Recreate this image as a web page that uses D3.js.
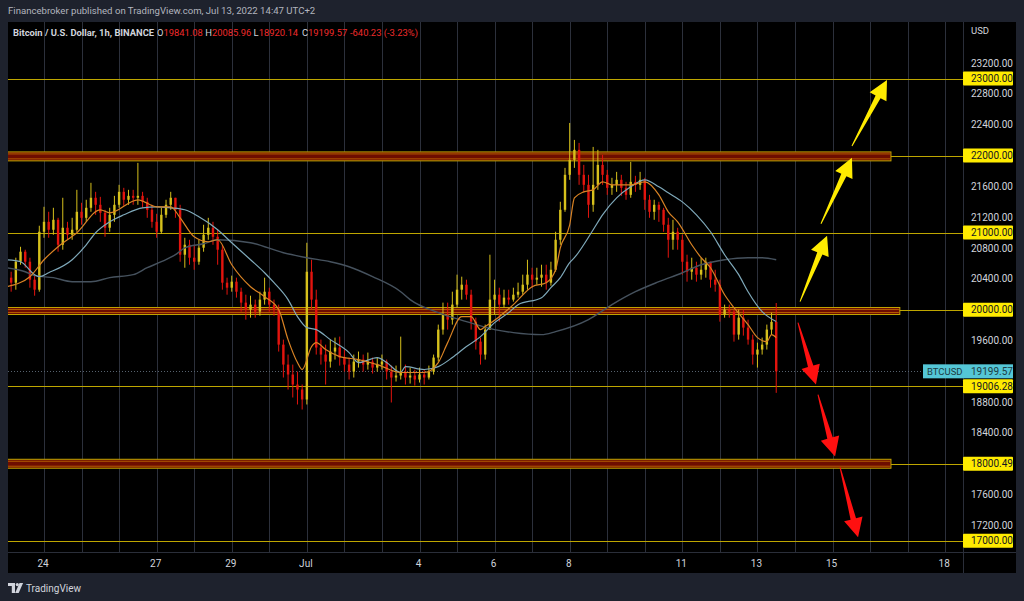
<!DOCTYPE html>
<html><head><meta charset="utf-8">
<script src="https://cdn.jsdelivr.net/npm/d3@7"></script>
<style>
html,body{margin:0;padding:0;background:#1e222d;}
svg{display:block;}
text{font-family:Roboto,"Liberation Sans",sans-serif;}
</style></head><body>
<svg id="c" width="1024" height="601"></svg>
<script>
// ---------- DATA ----------
const barStart = Date.UTC(2022, 5, 23, 0);   // first 3-hour bar
const barHours = 3;
const firstOpen = 20324;
const closes = [
20415,20350,20622,20752,20622,20389,20259,21011,21140,21037,
21166,20842,21063,20972,21037,21270,21192,21322,21452,21361,
21257,21063,21231,21361,21529,21426,21477,21452,21477,21400,
21296,21140,21011,21231,21361,21452,21296,20713,20842,20674,
20622,20804,20972,21063,20946,20778,20350,20285,20363,20233,
20091,20000,20065,19974,20130,20233,20065,20000,19546,19287,
19158,19028,18963,18834,20492,20130,19508,19417,19326,19456,
19508,19378,19287,19196,19326,19352,19287,19326,19248,19287,
19326,19196,19119,19145,19196,19119,19145,19093,19158,19119,
19196,19378,19741,19935,19870,20065,20259,20324,20194,19844,
19585,19417,19741,20130,20194,20065,20156,20130,20194,20233,
20324,20454,20389,20415,20454,20350,20518,20907,21296,21750,
21944,22074,21750,21620,21361,21620,21879,21750,21581,21620,
21685,21581,21490,21659,21620,21685,21426,21270,21361,21296,
21102,20907,21011,20907,20622,20492,20544,20454,20518,20622,
20389,20324,19935,20000,19974,19676,19896,19767,19611,19417,
19482,19546,19741,19841.08,19199.57];
const highs = [
20518,20492,20674,20816,20778,20674,20454,21089,21335,21270,
21322,21192,21452,21140,21192,21555,21387,21426,21646,21529,
21464,21296,21322,21477,21620,21581,21555,21555,21905,21529,
21452,21361,21244,21322,21426,21529,21452,21361,20933,20907,
20842,20907,21102,21192,21140,21037,20842,20415,20441,20415,
20285,20194,20181,20130,20233,20415,20285,20130,20065,19611,
19417,19287,19196,19028,20868,20648,20259,19611,19546,19611,
19637,19650,19482,19378,19417,19456,19417,19443,19378,19378,
19417,19352,19274,19274,19650,19287,19248,19222,19248,19222,
19274,19417,19806,20091,20091,20233,20454,20428,20389,20259,
19896,19637,19806,20713,20389,20285,20259,20259,20285,20350,
20454,20648,20544,20544,20583,20583,20622,21011,21400,21840,
22423,22203,22164,21879,21750,22112,22074,22009,21814,21711,
21788,21750,21659,21918,21737,21788,21711,21490,21426,21400,
21322,21192,21166,21063,20972,20713,20674,20622,20674,20674,
20622,20518,20389,20065,20065,20000,20000,20000,19870,19676,
19572,19637,19806,19961,20085.96];
const lows = [
20130,20233,20259,20583,20544,20285,20181,20233,20933,20933,
20972,20752,20778,20907,20907,21011,21102,21140,21270,21231,
21140,20946,21011,21140,21322,21348,21361,21361,21361,21322,
21192,21063,20933,20985,21192,21296,21192,20622,20544,20583,
20518,20583,20752,20907,20842,20583,20259,20194,20233,20156,
19974,19870,19896,19896,19922,20065,19974,19922,19456,19119,
18963,18860,18769,18704,18769,20000,19417,19287,19028,19248,
19352,19274,19196,19093,19119,19248,19196,19222,19171,19196,
19222,19093,18795,19067,19093,19028,19041,19015,19054,19028,
19093,19158,19326,19676,19741,19806,20026,20130,20130,19741,
19482,19287,19352,19741,19935,19844,20026,20065,20104,20156,
20194,20259,20285,20324,20298,20259,20311,20492,20842,21270,
21685,21840,21620,21529,21192,21270,21555,21620,21490,21490,
21529,21477,21426,21452,21529,21555,21296,21192,21166,21140,
21011,20674,20778,20778,20454,20363,20389,20363,20389,20415,
20285,20233,19844,19896,19896,19585,19611,19663,19546,19287,
19248,19417,19482,19676,18920.14];

// moving averages: bar index -> value
const maFastIdx = [0,5,8,11,15,20,22,28,32,35,37,40,43,45,48,52,55,58,60,62,63,65,66,68,71,75,79,84,89,92,94,97,99,101,102,105,108,112,115,117,118,120,121,123,125,127,129,133,136,139,141,143,146,148,150,153,155,158,160,162,163,164];
const maFastVal = [20298,20428,20648,20816,20998,21296,21257,21426,21335,21335,21192,20946,20881,20907,20583,20298,20168,20000,19611,19313,19222,19521,19572,19482,19391,19352,19287,19184,19184,19313,19572,19909,19909,19741,19780,19909,20065,20298,20350,20518,20803,21101,21451,21529,21555,21659,21620,21620,21659,21490,21270,21140,20842,20674,20544,20194,20026,19806,19637,19585,19676,19637];
const maMidIdx = [0,3,6,7,9,14,17,19,22,25,29,32,35,38,41,45,48,52,55,57,60,62,64,66,69,73,75,79,81,84,85,89,92,95,98,101,104,107,109,114,116,118,120,121,125,127,130,133,136,139,141,144,147,150,153,156,158,161,164];
const maMidVal = [20648,20622,20454,20428,20479,20648,20842,20998,21140,21231,21322,21335,21322,21296,21205,21037,20868,20648,20479,20350,20130,19909,19767,19741,19611,19443,19313,19378,19313,19184,19261,19223,19261,19378,19521,19650,19832,19961,20065,20155,20285,20415,20609,20674,21037,21231,21451,21594,21685,21594,21516,21399,21231,21011,20713,20454,20233,19974,19845];
const maSlowIdx = [0,4,6,10,14,18,22,27,30,33,36,38,42,45,52,59,64,69,73,78,84,86,92,98,104,108,114,117,124,129,134,139,144,148,153,158,161,164];
const maSlowVal = [20544,20492,20441,20415,20363,20363,20415,20454,20544,20622,20713,20803,20855,20907,20868,20739,20674,20622,20557,20428,20233,20130,19961,19845,19741,19702,19676,19715,19870,20065,20233,20363,20479,20583,20648,20674,20674,20648];

const levelPrices = [23000, 22000, 21000, 20000, 19006.28, 18000.49, 17000];
const bandHigh = [22047, 20028, 18058];
const bandLow  = [21931, 19937, 17942];
const bandEnd  = ["2022-07-16T13:20Z", "2022-07-16T19:00Z", "2022-07-16T13:20Z"];
const lastPrice = 19199.57;

// arrows: hours after 2022-07-13 00:00 UTC and prices (tail -> tip)
const arrowColor = ["#ffeb00","#ffeb00","#ffeb00","#ff1010","#ff1010","#ff1010"];
const arrowTailH = [27.2, 40.6, 60.4, 25.9, 38.7, 52.8];
const arrowTailP = [20104, 21115, 22125, 19832, 18898, 17952];
const arrowTipH  = [44.5, 60.4, 82.8, 37.4, 49.6, 64.3];
const arrowTipP  = [20959, 21970, 22980, 19028, 18095, 17045];

const tickDates = ["2022-06-24","2022-06-27","2022-06-29","2022-07-01","2022-07-04","2022-07-06","2022-07-08","2022-07-11","2022-07-13","2022-07-15","2022-07-18"];
const tickLabels = ["24","27","29","Jul","4","6","8","11","13","15","18"];

// ---------- LAYOUT ----------
const L = 8, R = 963, T = 22, B = 552;
const svg = d3.select("#c");
svg.append("rect").attr("width",1024).attr("height",601).attr("fill","#1e222d");
svg.append("rect").attr("x",8).attr("y",22).attr("width",1008).attr("height",551).attr("fill","#000");

const x = d3.scaleUtc().domain([Date.UTC(2022,5,24), Date.UTC(2022,6,18)]).range([44, 945.2]);
const y = d3.scaleLinear().domain([17000, 23000]).range([540.8, 78.5]);

svg.append("clipPath").attr("id","plot").append("rect").attr("x",L).attr("y",T).attr("width",R-L).attr("height",B-T);
const g = svg.append("g").attr("clip-path","url(#plot)");

// vertical day grid
const days = d3.utcDay.range(new Date(Date.UTC(2022,5,23)), new Date(Date.UTC(2022,6,20)));
g.selectAll("line.grid").data(days).join("line")
  .attr("x1", d => Math.round(x(d))+0.5).attr("x2", d => Math.round(x(d))+0.5)
  .attr("y1", T).attr("y2", B).attr("stroke","#2c303b").attr("stroke-width",1);

// price line (dotted)
g.append("line").attr("x1",L).attr("x2",923).attr("y1",Math.round(y(lastPrice))+0.5).attr("y2",Math.round(y(lastPrice))+0.5)
  .attr("stroke","#56626e").attr("stroke-dasharray","1,2");

// horizontal levels
g.selectAll("line.lvl").data(levelPrices).join("line")
  .attr("x1",L).attr("x2",R).attr("y1",d=>Math.round(y(d))+0.5).attr("y2",d=>Math.round(y(d))+0.5)
  .attr("stroke","#bea600").attr("stroke-width",1);

// bands
bandHigh.forEach((hi,i)=>{
  const x2 = x(new Date(bandEnd[i]));
  const y1 = y(hi), y2 = y(bandLow[i]);
  g.append("rect").attr("x",L-2).attr("y",y1).attr("width",x2-L+2).attr("height",y2-y1)
    .attr("fill","#6e0d00").attr("stroke","#c2a500").attr("stroke-width",1);
  g.append("line").attr("x1",L).attr("x2",x2-1).attr("y1",y1+2).attr("y2",y1+2).attr("stroke","#b25a00").attr("stroke-width",1);
  g.append("line").attr("x1",L).attr("x2",x2-1).attr("y1",y2-2).attr("y2",y2-2).attr("stroke","#b25a00").attr("stroke-width",1);
});

// candles
const bars = closes.map((c,i)=>{
  const o = i===0 ? firstOpen : closes[i-1];
  return {t:new Date(barStart + i*barHours*3600e3), o, c, h:Math.max(highs[i],o,c), l:Math.min(lows[i],o,c)};
});
const upCol = "#d6c01c", dnCol = "#e3140e";
const cg = g.append("g");
cg.selectAll("line.w").data(bars).join("line")
  .attr("x1",d=>x(d.t)).attr("x2",d=>x(d.t)).attr("y1",d=>y(d.h)).attr("y2",d=>y(d.l))
  .attr("stroke",d=>d.c>=d.o?upCol:dnCol).attr("stroke-width",1);
cg.selectAll("rect.b").data(bars).join("rect")
  .attr("x",d=>x(d.t)-1.2).attr("width",2.4)
  .attr("y",d=>y(Math.max(d.o,d.c))).attr("height",d=>Math.max(1,Math.abs(y(d.o)-y(d.c))))
  .attr("fill",d=>d.c>=d.o?upCol:dnCol);

// moving averages
function maLine(idx, vals, col, w){
  const pts = idx.map((k,j)=>[x(new Date(barStart + k*barHours*3600e3)), y(vals[j])]);
  g.append("path").attr("d", d3.line().curve(d3.curveMonotoneX)(pts))
    .attr("fill","none").attr("stroke",col).attr("stroke-width",w);
}
maLine(maSlowIdx, maSlowVal, "#46525e", 1.4);
maLine(maMidIdx, maMidVal, "#7fa9ba", 1.2);
maLine(maFastIdx, maFastVal, "#d98324", 1.2);

// arrows
const base13 = Date.UTC(2022,6,13);
arrowColor.forEach((col,i)=>{
  const tx = x(new Date(base13 + arrowTailH[i]*3600e3)), ty = y(arrowTailP[i]);
  const px = x(new Date(base13 + arrowTipH[i]*3600e3)), py = y(arrowTipP[i]);
  const len = Math.hypot(px-tx, py-ty), ux=(px-tx)/len, uy=(py-ty)/len, nx=-uy, ny=ux;
  const hl = 19, hw = 9.5, sw = 2.8;
  const bx = px-ux*hl, by = py-uy*hl;
  const pts = [[tx+nx*0.5,ty+ny*0.5],[bx+nx*sw,by+ny*sw],[bx+nx*hw,by+ny*hw],[px,py],[bx-nx*hw,by-ny*hw],[bx-nx*sw,by-ny*sw],[tx-nx*0.5,ty-ny*0.5]];
  svg.append("polygon").attr("points",pts.map(p=>p.join(",")).join(" ")).attr("fill",col);
});

// axes separators
svg.append("line").attr("x1",963.5).attr("x2",963.5).attr("y1",T).attr("y2",573).attr("stroke","#2a2e39");
svg.append("line").attr("x1",L).attr("x2",1016).attr("y1",552.5).attr("y2",552.5).attr("stroke","#2a2e39");

// time axis labels
svg.selectAll("text.tl").data(tickDates).join("text")
  .attr("x",d=>x(new Date(d+"T00:00Z"))-1).attr("y",563).attr("dy","0.35em")
  .attr("text-anchor","middle").attr("font-size",10).attr("fill","#d1d4dc")
  .text((d,i)=>tickLabels[i]);

// price axis
const boxY = levelPrices.map(p=>y(p)).concat([y(lastPrice)]);
const ticks = d3.range(17200, 23201, 400).filter(p=>boxY.every(b=>Math.abs(y(p)-b)>9));
svg.selectAll("text.pt").data(ticks).join("text")
  .attr("x",971).attr("y",d=>y(d)).attr("dy","0.35em").attr("font-size",10).attr("fill","#d1d4dc")
  .text(d=>d.toFixed(2));
svg.append("text").attr("x",971).attr("y",31).attr("dy","0.35em").attr("font-size",9.5).attr("fill","#d1d4dc").text("USD");

levelPrices.forEach(p=>{
  const yy = y(p);
  svg.append("rect").attr("x",963).attr("y",yy-7).attr("width",50).attr("height",14).attr("rx",1).attr("fill","#ffeb00");
  svg.append("text").attr("x",971).attr("y",yy).attr("dy","0.35em").attr("font-size",10).attr("fill","#131722").text(p.toFixed(2));
});
{
  const yy = y(lastPrice);
  svg.append("rect").attr("x",923).attr("y",yy-7).attr("width",90).attr("height",14).attr("fill","#54c6d6");
  svg.append("text").attr("x",927).attr("y",yy).attr("dy","0.35em").attr("font-size",9.5).attr("fill","#1d3b42").text("BTCUSD");
  svg.append("text").attr("x",971).attr("y",yy).attr("dy","0.35em").attr("font-size",10).attr("fill","#1d3b42").text(lastPrice.toFixed(2));
}

// header texts
svg.append("text").attr("x",8).attr("y",11).attr("dy","0.35em").attr("font-size",9.6).attr("fill","#b2b5be")
  .text("Financebroker published on TradingView.com, Jul 13, 2022 14:47 UTC+2");
const hdr = svg.append("text").attr("x",13).attr("y",33).attr("dy","0.35em").attr("font-size",9.4);
hdr.append("tspan").attr("fill","#d1d4dc").attr("font-weight","bold").text("Bitcoin / U.S. Dollar, 1h, BINANCE");
const ohlc = [["O","19841.08"],["H","20085.96"],["L","18920.14"],["C","19199.57"]];
ohlc.forEach(([k,v],i)=>{
  hdr.append("tspan").attr("x",157 + i*48.3).attr("fill","#d1d4dc").text(k);
  hdr.append("tspan").attr("fill","#ef2b2b").text(v);
});
hdr.append("tspan").attr("x",350).attr("fill","#ef2b2b").text("-640.23 (-3.23%)");

// footer logo
const lg = svg.append("g").attr("fill","#d1d4dc");
lg.append("path").attr("d","M8,583 h7 v10 h-3.2 v-7 h-3.8 z");
lg.append("circle").attr("cx",17.3).attr("cy",584.6).attr("r",1.6);
lg.append("path").attr("d","M19.5,583 h3.6 l-4.4,10 h-3.6 z");
svg.append("text").attr("x",26).attr("y",588).attr("dy","0.35em").attr("font-size",10).attr("fill","#d1d4dc").text("TradingView");
</script>
</body></html>
